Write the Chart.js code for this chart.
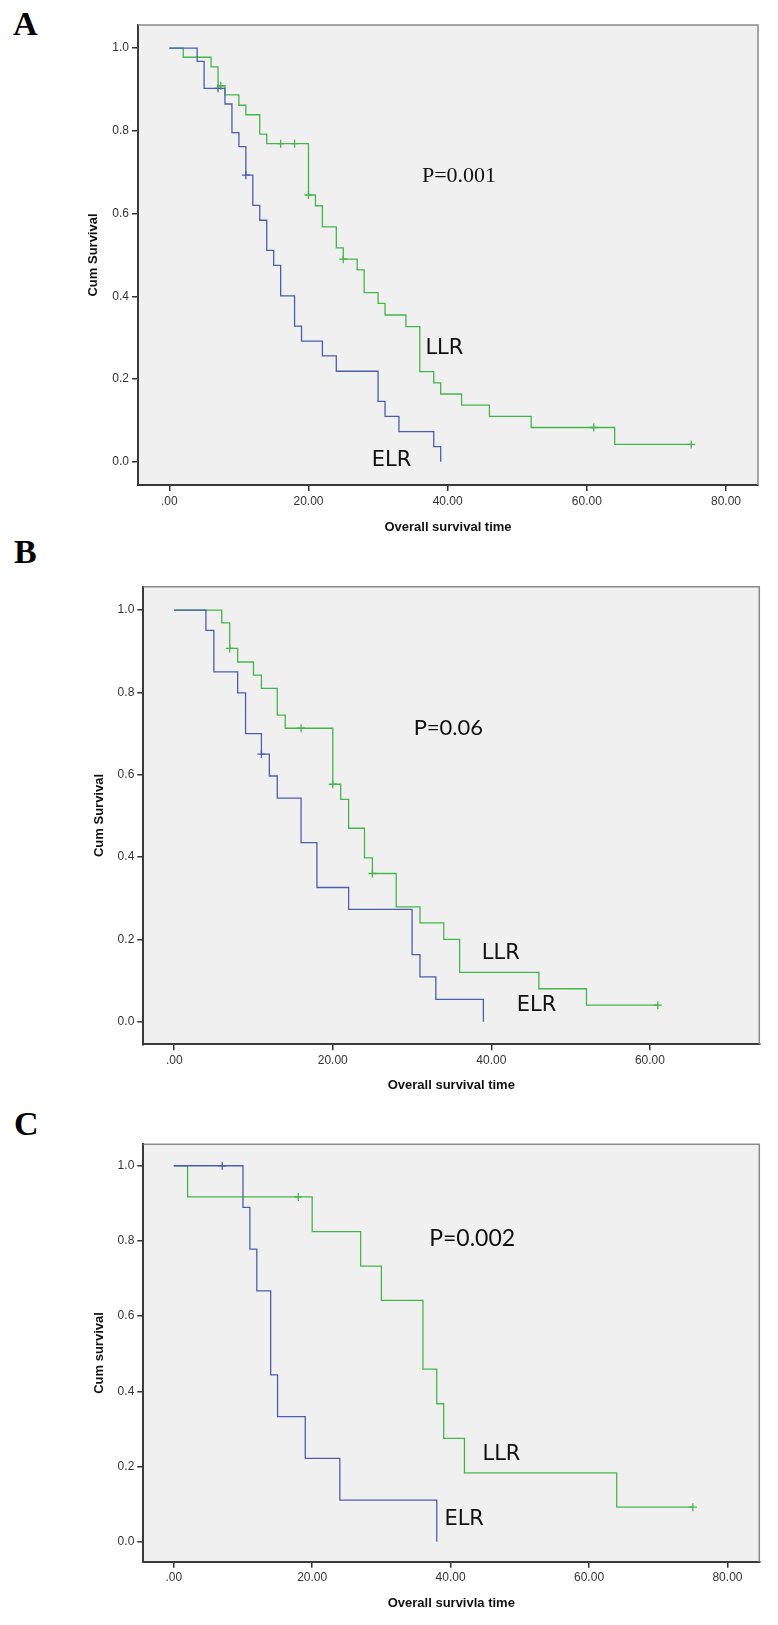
<!DOCTYPE html>
<html lang="en">
<head>
  <meta charset="UTF-8">
  <title>Overall survival: ELR vs LLR</title>
  <script src="https://cdn.jsdelivr.net/npm/chart.js"></script>
  <style>
body {
  margin: 0;
  background: #ffffff;
  width: 778px;
  height: 1625px;
  position: relative;
  overflow: hidden;
}
canvas {
  position: absolute;
  left: 0;
}
.tag {
  position: absolute;
  font-family: 'Liberation Serif', serif;
  font-weight: bold;
  font-size: 34px;
  line-height: 1;
  color: #000;
}
  </style>
</head>
<body>
  <div class="tag" style="left:13px; top:7px">A</div>
  <div class="tag" style="left:14px; top:535px">B</div>
  <div class="tag" style="left:14px; top:1107px">C</div>

  <canvas id="chartA" width="778" height="545" style="top:0px"></canvas>
  <canvas id="chartB" width="778" height="555" style="top:545px"></canvas>
  <canvas id="chartC" width="778" height="525" style="top:1100px"></canvas>

  <script>
    // shared ticks
    const xTicksAC = [0, 20, 40, 60, 80];
    const xTicksB = [0, 20, 40, 60];
    const yTicks = [0, 0.2, 0.4, 0.6, 0.8, 1.0];

    // Panel A
    const aElrTime = [0, 4, 5, 8, 9, 10, 11, 12, 13, 14, 15, 16, 18, 19, 22, 24, 30, 31, 33, 38, 39];
    const aElrSurv = [1, 0.968, 0.903, 0.865, 0.796, 0.762, 0.693, 0.620, 0.584, 0.511, 0.475, 0.401, 0.328, 0.292, 0.256, 0.219, 0.146, 0.110, 0.073, 0.037, 0];
    const aElrCensTime = [7, 11];
    const aElrCensSurv = [0.903, 0.693];
    const aLlrTime = [0, 2, 6, 7, 8, 10, 11, 13, 14, 20, 21, 22, 24, 25, 27, 28, 30, 31, 34, 36, 38, 39, 42, 46, 52, 64, 75];
    const aLlrSurv = [1, 0.978, 0.955, 0.909, 0.887, 0.862, 0.839, 0.792, 0.769, 0.645, 0.619, 0.568, 0.517, 0.490, 0.464, 0.409, 0.383, 0.355, 0.327, 0.218, 0.191, 0.164, 0.137, 0.110, 0.083, 0.042, 0.042];
    const aLlrCensTime = [7.4, 16, 18, 20, 25, 61, 75];
    const aLlrCensSurv = [0.909, 0.769, 0.769, 0.645, 0.490, 0.083, 0.042];

    // Panel B
    const bElrTime = [0, 4, 5, 8, 9, 11, 12, 13, 16, 18, 22, 30, 31, 33, 39];
    const bElrSurv = [1, 0.951, 0.850, 0.799, 0.700, 0.650, 0.597, 0.543, 0.435, 0.326, 0.273, 0.163, 0.109, 0.054, 0];
    const bElrCensTime = [11];
    const bElrCensSurv = [0.650];
    const bLlrTime = [0, 6, 7, 8, 10, 11, 13, 14, 20, 21, 22, 24, 25, 28, 31, 34, 36, 46, 52, 61];
    const bLlrSurv = [1, 0.969, 0.907, 0.874, 0.842, 0.810, 0.745, 0.713, 0.577, 0.540, 0.470, 0.398, 0.360, 0.279, 0.240, 0.200, 0.120, 0.080, 0.040, 0.040];
    const bLlrCensTime = [7, 16, 20, 25, 61];
    const bLlrCensSurv = [0.907, 0.713, 0.577, 0.360, 0.040];

    // Panel C
    const cElrTime = [0, 10, 11, 12, 14, 15, 19, 24, 38];
    const cElrSurv = [1, 0.889, 0.778, 0.667, 0.444, 0.333, 0.222, 0.111, 0];
    const cElrCensTime = [7];
    const cElrCensSurv = [1];
    const cLlrTime = [0, 2, 20, 27, 30, 36, 38, 39, 42, 64, 75];
    const cLlrSurv = [1, 0.917, 0.825, 0.733, 0.642, 0.459, 0.367, 0.275, 0.183, 0.092, 0.092];
    const cLlrCensTime = [18, 75];
    const cLlrCensSurv = [0.917, 0.092];

    const BLUE = '#4a5fb0';
    const GREEN = '#45b64b';

    function pts(ts, ss) {
      return ts.map((t, i) => ({ x: t, y: ss[i] }));
    }

    // grey plot background + light frame on top/right
    const framePlugin = {
      id: 'frame',
      beforeDraw(chart) {
        const { ctx, chartArea: a } = chart;
        ctx.save();
        ctx.fillStyle = '#f0f0f0';
        ctx.fillRect(a.left, a.top, a.right - a.left, a.bottom - a.top);
        ctx.restore();
      },
      afterDraw(chart) {
        const { ctx, chartArea: a } = chart;
        ctx.save();
        ctx.strokeStyle = '#8a8a8a';
        ctx.lineWidth = 1.5;
        ctx.beginPath();
        ctx.moveTo(a.left, a.top);
        ctx.lineTo(a.right, a.top);
        ctx.lineTo(a.right, a.bottom);
        ctx.stroke();
        ctx.restore();
      }
    };

    // text notes placed in data coordinates
    function notesPlugin(notes) {
      return {
        id: 'notes',
        afterDatasetsDraw(chart) {
          const { ctx, scales: { x, y } } = chart;
          ctx.save();
          ctx.fillStyle = '#111';
          ctx.textAlign = 'left';
          ctx.textBaseline = 'middle';
          notes.forEach(n => {
            ctx.font = n.font;
            ctx.fillText(n.text, x.getPixelForValue(n.x), y.getPixelForValue(n.y));
          });
          ctx.restore();
        }
      };
    }

    function makeChart(id, o) {
      const tickFont = { family: 'Liberation Sans', size: 12 };
      const titleFont = { family: 'Liberation Sans', size: 13, weight: 'bold' };
      new Chart(document.getElementById(id), {
        type: 'line',
        data: {
          datasets: [
            { data: pts(o.elrT, o.elrS), stepped: 'before', borderColor: BLUE, borderWidth: 1.3, pointRadius: 0, fill: false },
            { data: pts(o.llrT, o.llrS), stepped: 'before', borderColor: GREEN, borderWidth: 1.3, pointRadius: 0, fill: false },
            { data: pts(o.elrCT, o.elrCS), showLine: false, pointStyle: 'cross', pointRadius: 4, borderColor: BLUE, borderWidth: 1.3 },
            { data: pts(o.llrCT, o.llrCS), showLine: false, pointStyle: 'cross', pointRadius: 4, borderColor: GREEN, borderWidth: 1.3 }
          ]
        },
        options: {
          responsive: false,
          devicePixelRatio: 1,
          animation: false,
          layout: { padding: { top: o.top, right: o.right, left: 0, bottom: 0 } },
          plugins: { legend: { display: false }, tooltip: { enabled: false } },
          scales: {
            x: {
              type: 'linear',
              min: o.xMin,
              max: o.xMax,
              afterBuildTicks: s => { s.ticks = o.xTicks.map(v => ({ value: v })); },
              afterFit: s => { s.height = o.xH; },
              ticks: {
                callback: v => v === 0 ? '.00' : v.toFixed(2),
                color: '#333', font: tickFont, padding: 3, maxRotation: 0, autoSkip: false
              },
              grid: { display: true, drawOnChartArea: false, drawTicks: true, tickLength: 6, color: '#333', lineWidth: 1.5 },
              border: { display: true, color: '#3a3a3a', width: 2 },
              title: { display: true, text: o.xTitle, color: '#111', font: titleFont, padding: { top: 0, bottom: o.xTitlePad } }
            },
            y: {
              type: 'linear',
              min: o.yMin,
              max: o.yMax,
              afterBuildTicks: s => { s.ticks = yTicks.map(v => ({ value: v })); },
              afterFit: s => { s.width = o.yW; },
              ticks: {
                callback: v => v.toFixed(1),
                color: '#333', font: tickFont, padding: 3, autoSkip: false
              },
              grid: { display: true, drawOnChartArea: false, drawTicks: true, tickLength: 6, color: '#333', lineWidth: 1.5 },
              border: { display: true, color: '#3a3a3a', width: 2 },
              title: { display: true, text: o.yTitle, color: '#111', font: titleFont, padding: { top: o.yTitlePad, bottom: 0 } }
            }
          }
        },
        plugins: [framePlugin, notesPlugin(o.notes)]
      });
    }

    makeChart('chartA', {
      elrT: aElrTime, elrS: aElrSurv, elrCT: aElrCensTime, elrCS: aElrCensSurv,
      llrT: aLlrTime, llrS: aLlrSurv, llrCT: aLlrCensTime, llrCS: aLlrCensSurv,
      xMin: -4.5, xMax: 84.6, yMin: -0.056, yMax: 1.056, xTicks: xTicksAC,
      top: 25, right: 20, yW: 138, xH: 60, xTitlePad: 10, yTitlePad: 86,
      xTitle: 'Overall survival time', yTitle: 'Cum Survival',
      notes: [
        { text: 'P=0.001', x: 36.3, y: 0.69, font: '22px "Liberation Serif"' },
        { text: 'LLR', x: 36.8, y: 0.274, font: '21px "DejaVu Sans"' },
        { text: 'ELR', x: 29.1, y: 0.002, font: '21px "DejaVu Sans"' }
      ]
    });

    makeChart('chartB', {
      elrT: bElrTime, elrS: bElrSurv, elrCT: bElrCensTime, elrCS: bElrCensSurv,
      llrT: bLlrTime, llrS: bLlrSurv, llrCT: bLlrCensTime, llrCS: bLlrCensSurv,
      xMin: -3.9, xMax: 73.8, yMin: -0.055, yMax: 1.057, xTicks: xTicksB,
      top: 41.7, right: 18.7, yW: 143.3, xH: 55.7, xTitlePad: 7, yTitlePad: 92,
      xTitle: 'Overall survival time', yTitle: 'Cum Survival',
      notes: [
        { text: 'P=0.06', x: 30.2, y: 0.715, font: '22px Lato' },
        { text: 'LLR', x: 38.8, y: 0.165, font: '21px "DejaVu Sans"' },
        { text: 'ELR', x: 43.2, y: 0.04, font: '21px "DejaVu Sans"' }
      ]
    });

    makeChart('chartC', {
      elrT: cElrTime, elrS: cElrSurv, elrCT: cElrCensTime, elrCS: cElrCensSurv,
      llrT: cLlrTime, llrS: cLlrSurv, llrCT: cLlrCensTime, llrCS: cLlrCensSurv,
      xMin: -4.4, xMax: 84.6, yMin: -0.053, yMax: 1.057, xTicks: xTicksAC,
      top: 44.3, right: 18.7, yW: 143.3, xH: 63.3, xTitlePad: 14, yTitlePad: 92,
      xTitle: 'Overall survivla time', yTitle: 'Cum survival',
      notes: [
        { text: 'P=0.002', x: 36.9, y: 0.807, font: '23px Lato' },
        { text: 'LLR', x: 44.6, y: 0.231, font: '21px "DejaVu Sans"' },
        { text: 'ELR', x: 39.1, y: 0.06, font: '21px "DejaVu Sans"' }
      ]
    });
  </script>
</body>
</html>
